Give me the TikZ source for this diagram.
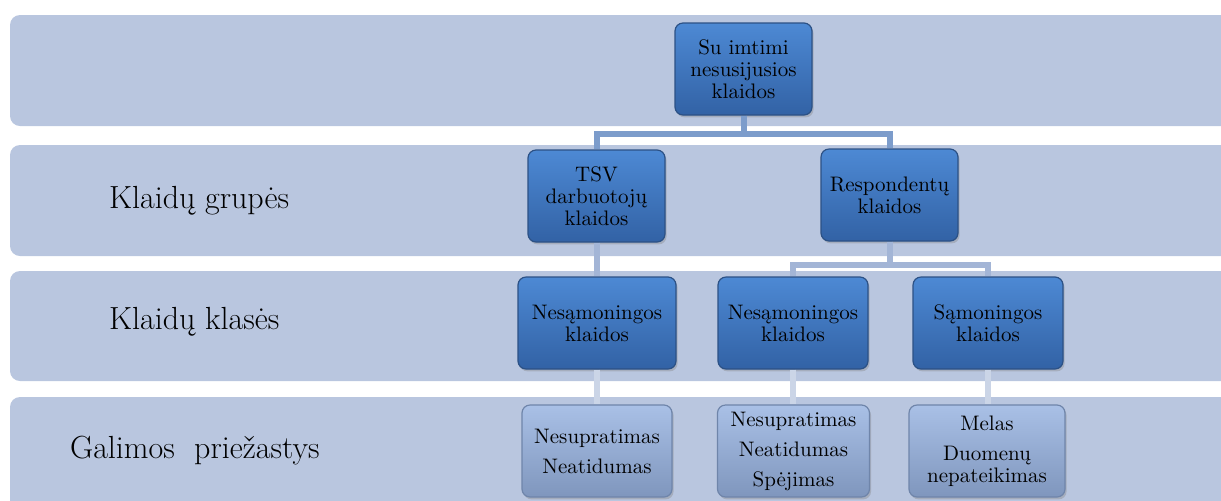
\documentclass[tikz,border=0pt]{standalone}
\usepackage{fontspec}
\usetikzlibrary{shadows}
\definecolor{bandc}{HTML}{B9C6DF}
\definecolor{dktop}{HTML}{4D89D4}
\definecolor{dkbot}{HTML}{3262A5}
\definecolor{dkbord}{HTML}{2C5185}
\definecolor{lttop}{HTML}{A9C0E6}
\definecolor{ltbot}{HTML}{7F96BD}
\definecolor{ltbord}{HTML}{6F85AA}
\definecolor{cn1}{HTML}{7C9CCB}
\definecolor{cn2}{HTML}{A3B5D6}
\definecolor{cn3}{HTML}{CBD5E7}
\tikzset{
    BAND/.style ={fill=bandc, rounded corners=5pt},
    BX1/.style ={rectangle, rounded corners=4pt, draw=dkbord, line width=0.6pt, top color=dktop, bottom color=dkbot,
        minimum width=68.5pt, minimum height=46pt, align=center, inner sep=1pt,
        font=\fontsize{10.5}{11}\selectfont, drop shadow={shadow xshift=0.8pt, shadow yshift=-1.2pt, opacity=0.35}},
    BX2/.style ={BX1, draw=ltbord, top color=lttop, bottom color=ltbot, minimum width=75pt,
        font=\fontsize{10.5}{15}\selectfont},
    LB/.style ={anchor=west, font=\fontsize{16}{18}\selectfont},
    CN1/.style ={line width=3pt, cn1},
    CN2/.style ={line width=3pt, cn2},
    CN3/.style ={line width=3pt, cn3}}

\begin{document}
\begin{tikzpicture}[x=0.5pt, y=-0.5pt]
        \useasboundingbox (0,0) rectangle (1221,500);
        % bands
        \fill[BAND] (10,15) rectangle (1250,126);
        \fill[BAND] (10,145) rectangle (1250,256);
        \fill[BAND] (10,271) rectangle (1250,381);
        \fill[BAND] (10,397) rectangle (1250,530);
        \node[LB] (L1) at (102,201) {Klaidų grupės};
        \node[LB] (L2) at (102,322) {Klaidų klasės};
        \node[LB] (L3) at (63,451) {Galimos\ \ priežastys};
        % boxes
        \node[BX1] (0) at (743.5,69) {Su imtimi\\nesusijusios\\klaidos};
        \node[BX1] (1) at (596.5,196) {TSV\\darbuotojų\\klaidos};
        \node[BX1] (2) at (889.5,195) {Respondentų\\klaidos};
        \node[BX1, minimum width=79pt] (3) at (597,323) {Nesąmoningos\\klaidos};
        \node[BX1, minimum width=75pt] (4) at (793,323) {Nesąmoningos\\klaidos};
        \node[BX1, minimum width=75pt] (5) at (988,323) {Sąmoningos\\klaidos};
        \node[BX2] (6) at (597,451) {Nesupratimas\\Neatidumas};
        \node[BX2, minimum width=76pt] (7) at (793.5,451) {Nesupratimas\\Neatidumas\\Spėjimas};
        \node[BX2, minimum width=78pt] (8) at (987,451) {Melas\\Duomenų\\[-4pt]nepateikimas};
        % connectors
        \draw[CN1] (0.south) -- ++(0,18) -| (1.north);
        \draw[CN1] (0.south) -- ++(0,18) -| (2.north);
        \draw[CN2] (1.south) -- (1.south |- 3.north);
        \draw[CN2] (2.south) -- ++(0,23) -| (4.north);
        \draw[CN2] (2.south) -- ++(0,23) -| (5.north);
        \draw[CN3] (3.south) -- (6.north);
        \draw[CN3] (4.south) -- (4.south |- 7.north);
        \draw[CN3] (5.south) -- (5.south |- 8.north);
    \end{tikzpicture}
\end{document}
